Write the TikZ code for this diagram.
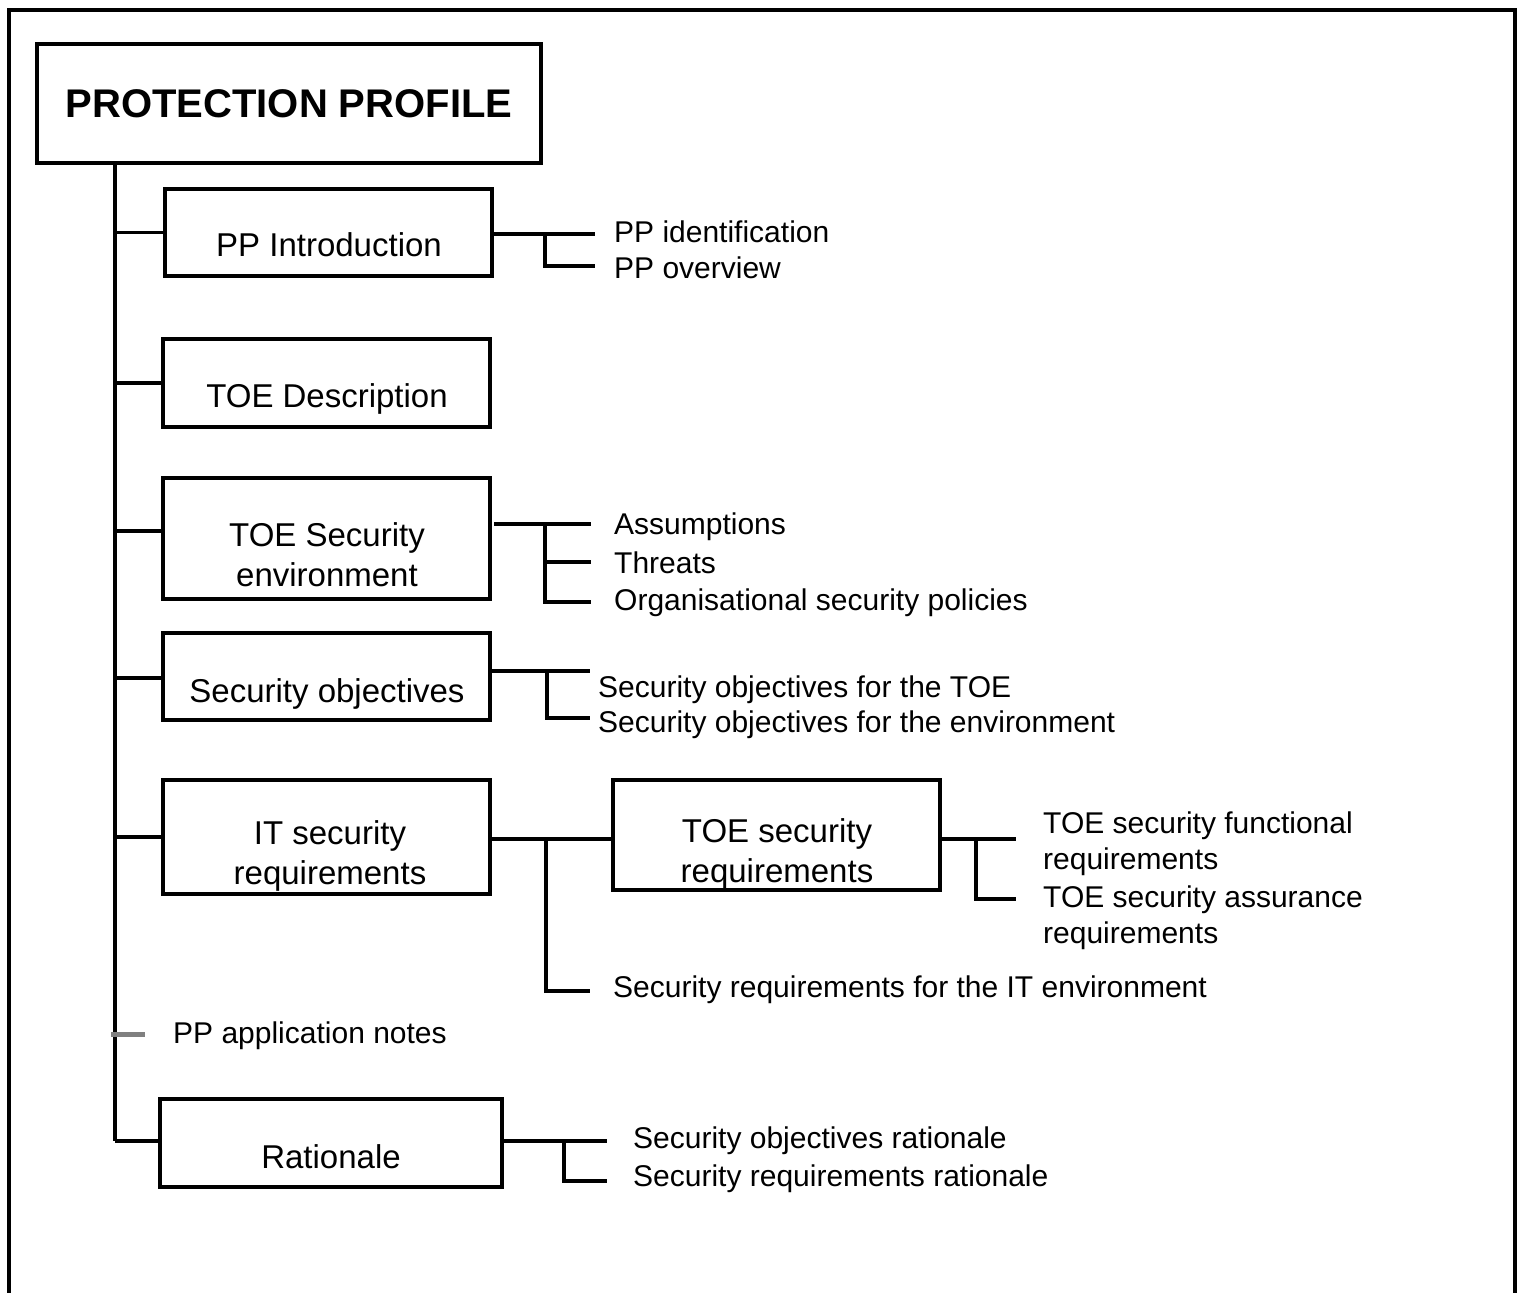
\documentclass[tikz,border=0pt]{standalone}
\usepackage{fontspec}
\setmainfont{Liberation Sans}
\begin{document}
\begin{tikzpicture}[x=1pt,y=-1pt,
  frame/.style={line width=3.5pt},
  box/.style={draw, line width=3.5pt, inner sep=0pt},
  boxtext/.style={inner sep=0pt, align=center, font=\fontsize{33}{40}\selectfont},
  oneline/.style={text height=0.716em, text depth=0pt},
  item/.style={inner sep=0pt, anchor=base west, font=\fontsize{30}{36}\selectfont},
  item2/.style={inner sep=0pt, anchor=west, align=left, font=\fontsize{30}{36}\selectfont},
  wire/.style={line width=3.5pt},
  greywire/.style={line width=5pt, draw=black!50}]
\useasboundingbox (0,0) rectangle (1524,1293);

% open outer frame
\draw[frame] (9,1300) -- (9,10) -- (1515,10) -- (1515,1300);

% title box
\node[box, minimum width=504pt, minimum height=119pt,
      font=\fontsize{40}{48}\selectfont\bfseries] (pp) at (289,103.5) {PROTECTION PROFILE};

% section boxes
\node[box, minimum width=327pt, minimum height=87pt]  (intro)  at (328.5,232.5) {};
\node[box, minimum width=327pt, minimum height=88pt]  (desc)   at (326.5,383)   {};
\node[box, minimum width=327pt, minimum height=121pt] (env)    at (326.5,538.5) {};
\node[box, minimum width=327pt, minimum height=87pt]  (obj)    at (326.5,676.5) {};
\node[box, minimum width=327pt, minimum height=114pt] (itreq)  at (326.5,837)   {};
\node[box, minimum width=327pt, minimum height=110pt] (toereq) at (776.5,835)   {};
\node[box, minimum width=342pt, minimum height=88pt]  (rat)    at (331,1143)    {};

% box captions
\node[boxtext, oneline] (intro-t)  at (329,253)   {PP Introduction};
\node[boxtext, oneline] (desc-t)   at (327,404)   {TOE Description};
\node[boxtext]          (env-t)    at (327,554.5) {TOE Security\\environment};
\node[boxtext, oneline] (obj-t)    at (327,699)   {Security objectives};
\node[boxtext]          (itreq-t)  at (330,855.5) {IT security\\requirements};
\node[boxtext]          (toereq-t) at (777,854)   {TOE security\\requirements};
\node[boxtext, oneline] (rat-t)    at (331,1165)  {Rationale};

% item labels
\node[item] (ppid)   at (614,242.7)  {PP identification};
\node[item] (ppov)   at (614,278.7)  {PP overview};
\node[item] (assum)  at (614,534.7)  {Assumptions};
\node[item] (threat) at (614,573.7)  {Threats};
\node[item] (orgsp)  at (614,610.7)  {Organisational security policies};
\node[item] (sotoe)  at (598,697.7)  {Security objectives for the TOE};
\node[item] (soenv)  at (598,732.7)  {Security objectives for the environment};
\node[item2] (sfr)   at (1043,844)   {TOE security functional\\requirements};
\node[item2] (sar)   at (1043,918)   {TOE security assurance\\requirements};
\node[item] (itenv)  at (613,997.7)  {Security requirements for the IT environment};
\node[item] (notes)  at (173,1043.7) {PP application notes};
\node[item] (sorat)  at (633,1148.7) {Security objectives rationale};
\node[item] (srrat)  at (633,1186.7) {Security requirements rationale};

% trunk
\coordinate (trunk-top) at (115,163);
\coordinate (trunk-bot) at (115,1141);
\draw[wire] (trunk-top) -- (trunk-bot);
\draw[wire] (trunk-top |- intro.west) -- (intro.west);
\draw[wire] (trunk-top |- desc.west)  -- (desc.west);
\draw[wire] (115,531)  coordinate (t-env) -- (t-env -| env.west);
\draw[wire] (115,678)  coordinate (t-obj) -- (t-obj -| obj.west);
\draw[wire] (trunk-top |- itreq.west) -- (itreq.west);
\draw[wire] (trunk-bot) -- (trunk-bot -| rat.west);
\coordinate (t-notes) at (111,1034);
\draw[greywire] (t-notes) -- ++(34,0);

% PP Introduction branches
\coordinate (e-ppid) at (595,234);
\coordinate (e-ppov) at (595,266);
\draw[wire] (intro.east |- e-ppid) -- (e-ppid);
\draw[wire] (545,234) |- (e-ppov);

% TOE Security environment branches
\coordinate (e-assum)  at (591,524);
\coordinate (e-threat) at (591,562);
\coordinate (e-orgsp)  at (591,602);
\draw[wire] (494,524) -- (e-assum);
\draw[wire] (545,524) |- (e-orgsp);
\draw[wire] (545,562) -- (e-threat);

% Security objectives branches
\coordinate (e-sotoe) at (590,671);
\coordinate (e-soenv) at (590,718);
\draw[wire] (obj.east |- e-sotoe) -- (e-sotoe);
\draw[wire] (547,671) |- (e-soenv);

% IT security requirements branches
\coordinate (e-itenv) at (590,991);
\draw[wire] (itreq.east |- 0,839) -- (toereq.west |- 0,839);
\draw[wire] (546,839) |- (e-itenv);

% TOE security requirements branches
\coordinate (e-sfr) at (1016,839);
\coordinate (e-sar) at (1016,899);
\draw[wire] (toereq.east |- e-sfr) -- (e-sfr);
\draw[wire] (976,839) |- (e-sar);

% Rationale branches
\coordinate (e-sorat) at (607,1141);
\coordinate (e-srrat) at (607,1181);
\draw[wire] (rat.east |- e-sorat) -- (e-sorat);
\draw[wire] (564,1141) |- (e-srrat);
\end{tikzpicture}
\end{document}
